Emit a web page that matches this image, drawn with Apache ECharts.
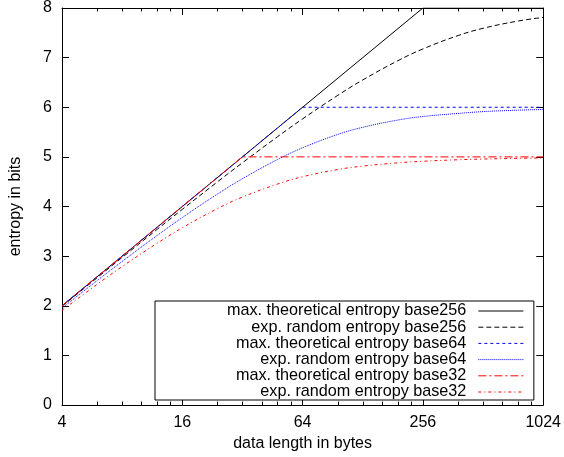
<!DOCTYPE html>
<html>
<head>
<meta charset="utf-8">
<script src="https://cdn.jsdelivr.net/npm/echarts@6/dist/echarts.min.js"></script>
<style>
html,body{margin:0;padding:0;background:#fff;}
#chart{width:564px;height:457px;}
</style>
</head>
<body>
<div id="chart"></div>
<script>
// data length in bytes (x) for the expected random entropy curves
const bytes = [4, 6, 8, 12, 16, 24, 32, 48, 64, 96, 128, 192, 256, 384, 512, 768, 1024];
const exp256 = [1.988, 2.565, 2.973, 3.542, 3.942, 4.497, 4.882, 5.408, 5.766, 6.240, 6.550, 6.939, 7.175, 7.445, 7.591, 7.738, 7.810];
const exp64  = [1.954, 2.508, 2.893, 3.419, 3.777, 4.251, 4.560, 4.948, 5.183, 5.452, 5.596, 5.742, 5.814, 5.875, 5.912, 5.941, 5.956];
const exp32  = [1.908, 2.433, 2.790, 3.262, 3.571, 3.958, 4.190, 4.453, 4.600, 4.745, 4.814, 4.880, 4.911, 4.942, 4.956, 4.971, 4.978];

// maximum theoretical entropy (break points)
const maxX256 = [4, 256, 1024];
const max256  = [2, 8, 8];
const maxX64  = [4, 64, 1024];
const max64   = [2, 6, 6];
const maxX32  = [4, 32, 1024];
const max32   = [2, 5, 5];

const xTicks = [4, 16, 64, 256, 1024];
const yTicks = [0, 1, 2, 3, 4, 5, 6, 7, 8];

const names = [
  'max. theoretical entropy base256',
  'exp. random entropy base256',
  'max. theoretical entropy base64',
  'exp. random entropy base64',
  'max. theoretical entropy base32',
  'exp. random entropy base32'
];

function pairs(xs, ys) { return xs.map((x, i) => [x, ys[i]]); }

const FONT = 'Liberation Sans, Arial, Helvetica, sans-serif';

const chart = echarts.init(document.getElementById('chart'), null, {renderer: 'canvas'});

const baseX = {
  type: 'log', logBase: 4, min: xTicks[0], max: xTicks[xTicks.length - 1],
  axisLine: {show: true, onZero: false, lineStyle: {color: '#000', width: 1}},
  axisTick: {show: true, inside: true, length: 7, lineStyle: {color: '#000'}},
  minorTick: {show: true, splitNumber: 6, length: 3.5, lineStyle: {color: '#000'}},
  splitLine: {show: false}, minorSplitLine: {show: false}
};
const baseY = {
  type: 'value', min: yTicks[0], max: yTicks[yTicks.length - 1], interval: 1,
  axisLine: {show: true, onZero: false, lineStyle: {color: '#000', width: 1}},
  axisTick: {show: true, inside: true, length: 7, lineStyle: {color: '#000'}},
  splitLine: {show: false}
};

const option = {
  animation: false,
  backgroundColor: '#fff',
  textStyle: {fontFamily: FONT},
  grid: {left: 61.5, right: 20.5, top: 8, bottom: 52, containLabel: false},
  xAxis: [
    Object.assign({}, baseX, {
      position: 'bottom',
      name: 'data length in bytes', nameLocation: 'middle', nameGap: 30,
      nameTextStyle: {color: '#000', fontSize: 16, fontFamily: FONT},
      axisLabel: {show: true, color: '#000', fontSize: 16, fontFamily: FONT, margin: 10,
        formatter: v => String(Math.round(v))},
      minorTick: Object.assign({}, baseX.minorTick, {inside: true})
    }),
    Object.assign({}, baseX, {
      position: 'top', axisLabel: {show: false},
      minorTick: Object.assign({}, baseX.minorTick, {inside: true})
    })
  ],
  yAxis: [
    Object.assign({}, baseY, {
      position: 'left',
      name: 'entropy in bits', nameLocation: 'middle', nameGap: 38, nameRotate: 90,
      nameTextStyle: {color: '#000', fontSize: 16, fontFamily: FONT},
      axisLabel: {show: true, color: '#000', fontSize: 16, fontFamily: FONT, margin: 10}
    }),
    Object.assign({}, baseY, {position: 'right', axisLabel: {show: false}})
  ],
  legend: {
    show: true,
    orient: 'vertical',
    align: 'right',
    left: 155, top: 301,
    padding: [2, 10, 0, 72],
    itemGap: 0.2,
    itemWidth: 45, itemHeight: 10,
    backgroundColor: '#fff',
    borderColor: '#000', borderWidth: 1,
    itemStyle: {opacity: 0},
    lineStyle: {width: 1},
    textStyle: {color: '#000', fontSize: 16.2, fontFamily: FONT, lineHeight: 16, padding: [0, 7, 0, 0]},
    data: names
  },
  series: [
    {name: names[0], type: 'line', data: pairs(maxX256, max256), symbol: 'none',
      lineStyle: {color: '#000', width: 1, type: 'solid'}, itemStyle: {color: '#000'}},
    {name: names[1], type: 'line', data: pairs(bytes, exp256), symbol: 'none', smooth: 0.4,
      lineStyle: {color: '#000', width: 1, type: [5, 3]}, itemStyle: {color: '#000'}},
    {name: names[2], type: 'line', data: pairs(maxX64, max64), symbol: 'none',
      lineStyle: {color: '#0000ff', width: 1, type: [3, 3]}, itemStyle: {color: '#0000ff'}},
    {name: names[3], type: 'line', data: pairs(bytes, exp64), symbol: 'none', smooth: 0.4,
      lineStyle: {color: '#0000ff', width: 1, type: [1, 1]}, itemStyle: {color: '#0000ff'}},
    {name: names[4], type: 'line', data: pairs(maxX32, max32), symbol: 'none',
      lineStyle: {color: '#ff0000', width: 1, type: [8, 3, 2, 3]}, itemStyle: {color: '#ff0000'}},
    {name: names[5], type: 'line', data: pairs(bytes, exp32), symbol: 'none', smooth: 0.4,
      lineStyle: {color: '#ff0000', width: 1, type: [3, 3, 1, 3]}, itemStyle: {color: '#ff0000'}}
  ]
};
chart.setOption(option);
</script>
</body>
</html>
